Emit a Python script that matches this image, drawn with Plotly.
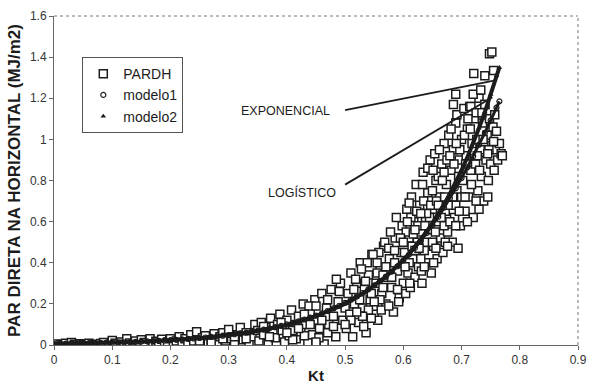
import plotly.graph_objects as go

# ---------------- data ----------------
pardh_kt = [
    0.005, 0.012, 0.02, 0.03, 0.035, 0.045, 0.05, 0.06, 0.07, 0.08,
    0.085, 0.095, 0.10, 0.105, 0.115, 0.12, 0.125, 0.13, 0.14, 0.145,
    0.15, 0.155, 0.165, 0.17, 0.175, 0.18, 0.185, 0.19, 0.195, 0.2,
    0.205, 0.21, 0.215, 0.22, 0.225, 0.23, 0.235, 0.24, 0.245, 0.25,
    0.255, 0.26, 0.265, 0.27, 0.275, 0.28, 0.285, 0.29, 0.295, 0.30,
    0.305, 0.31, 0.315, 0.32, 0.325, 0.33, 0.335, 0.34, 0.345, 0.35,
    0.352, 0.356, 0.36, 0.364, 0.368, 0.372, 0.376, 0.38, 0.384, 0.388,
    0.392, 0.396, 0.40, 0.404, 0.408, 0.412, 0.416, 0.42, 0.424, 0.428,
    0.432, 0.436, 0.44, 0.444, 0.448, 0.452, 0.456, 0.46, 0.464, 0.468,
    0.472, 0.476, 0.48, 0.484, 0.488, 0.492, 0.496, 0.50, 0.438, 0.41,
    0.455, 0.47, 0.485, 0.45, 0.43,
    0.502, 0.505, 0.508, 0.51, 0.513, 0.516, 0.52, 0.523, 0.526, 0.53,
    0.533, 0.536, 0.54, 0.543, 0.546, 0.55, 0.553, 0.556, 0.56, 0.563,
    0.566, 0.57, 0.573, 0.576, 0.58, 0.583, 0.586, 0.59, 0.593, 0.596,
    0.60, 0.598, 0.588, 0.578, 0.568, 0.558, 0.548, 0.538, 0.528, 0.518,
    0.532, 0.545, 0.562, 0.575, 0.592, 0.585, 0.555, 0.565,
    0.602, 0.604, 0.606, 0.608, 0.61, 0.612, 0.614, 0.616, 0.618, 0.62,
    0.622, 0.624, 0.626, 0.628, 0.63, 0.632, 0.634, 0.636, 0.638, 0.64,
    0.642, 0.644, 0.646, 0.648, 0.65, 0.652, 0.654, 0.656, 0.658, 0.66,
    0.662, 0.664, 0.666, 0.668, 0.67, 0.672, 0.674, 0.676, 0.678, 0.68,
    0.682, 0.684, 0.686, 0.688, 0.69, 0.692, 0.694, 0.696, 0.698, 0.70,
    0.605, 0.615, 0.625, 0.635, 0.645, 0.655, 0.665, 0.675, 0.685, 0.695,
    0.61, 0.62, 0.63, 0.64, 0.65, 0.66, 0.67, 0.68, 0.69, 0.70,
    0.642, 0.652, 0.662, 0.672, 0.682, 0.692, 0.603, 0.613, 0.623, 0.633,
    0.702, 0.704, 0.706, 0.708, 0.71, 0.712, 0.714, 0.716, 0.718, 0.72,
    0.722, 0.724, 0.726, 0.728, 0.73, 0.732, 0.734, 0.736, 0.738, 0.74,
    0.742, 0.744, 0.746, 0.748, 0.75, 0.752, 0.754, 0.756, 0.758, 0.76,
    0.762, 0.765, 0.768, 0.77, 0.721, 0.74, 0.755, 0.748, 0.752, 0.69,
    0.686, 0.72, 0.733, 0.716, 0.74, 0.71, 0.73, 0.745, 0.725, 0.705,
    0.36, 0.37, 0.39, 0.41, 0.43, 0.45, 0.47, 0.49, 0.515, 0.525,
    0.535, 0.545, 0.555, 0.565, 0.575, 0.585, 0.595, 0.607, 0.617, 0.627,
    0.637, 0.647, 0.657, 0.667, 0.677, 0.687, 0.697, 0.707, 0.717, 0.727,
    0.737, 0.747, 0.757, 0.611, 0.631, 0.651, 0.671, 0.691, 0.711, 0.731,
    0.58, 0.59, 0.57, 0.56, 0.55, 0.54, 0.53, 0.52, 0.51, 0.50,
    0.66, 0.67, 0.68, 0.69, 0.65, 0.64, 0.63, 0.62, 0.61, 0.60,
    0.715, 0.735, 0.755, 0.725, 0.745, 0.706, 0.696, 0.676, 0.656, 0.636,
    0.40, 0.42, 0.44, 0.46, 0.48, 0.33, 0.31, 0.29, 0.27, 0.25,
]
pardh_par = [
    0.005, 0.002, 0.008, 0.012, 0.004, 0.006, 0.002, 0.009, 0.004, 0.007,
    0.012, 0.003, 0.022, 0.008, 0.015, 0.004, 0.03, 0.01, 0.02, 0.006,
    0.025, 0.012, 0.03, 0.005, 0.018, 0.01, 0.028, 0.004, 0.015, 0.03,
    0.008, 0.02, 0.04, 0.012, 0.03, 0.005, 0.05, 0.02, 0.065, 0.01,
    0.035, 0.045, 0.015, 0.025, 0.055, 0.008, 0.04, 0.06, 0.02, 0.075,
    0.03, 0.012, 0.05, 0.085, 0.025, 0.06, 0.008, 0.04, 0.10, 0.07,
    0.02, 0.11, 0.05, 0.085, 0.01, 0.13, 0.06, 0.035, 0.10, 0.15,
    0.07, 0.015, 0.12, 0.045, 0.17, 0.09, 0.03, 0.14, 0.065, 0.20,
    0.10, 0.012, 0.16, 0.05, 0.22, 0.12, 0.08, 0.25, 0.005, 0.18,
    0.10, 0.27, 0.14, 0.04, 0.21, 0.30, 0.12, 0.18, 0.19, 0.025,
    0.035, 0.06, 0.32, 0.015, 0.045,
    0.08, 0.25, 0.15, 0.35, 0.04, 0.20, 0.30, 0.11, 0.40, 0.18,
    0.27, 0.06, 0.34, 0.22, 0.44, 0.15, 0.30, 0.12, 0.38, 0.25,
    0.48, 0.20, 0.33, 0.42, 0.28, 0.16, 0.52, 0.36, 0.23, 0.45,
    0.30, 0.58, 0.62, 0.55, 0.50, 0.45, 0.44, 0.40, 0.37, 0.32,
    0.09, 0.13, 0.17, 0.19, 0.21, 0.40, 0.35, 0.28,
    0.45, 0.25, 0.66, 0.35, 0.52, 0.28, 0.72, 0.42, 0.60, 0.33,
    0.78, 0.50, 0.38, 0.68, 0.55, 0.30, 0.84, 0.46, 0.62, 0.40,
    0.74, 0.56, 0.90, 0.35, 0.66, 0.48, 0.93, 0.80, 0.42, 0.60,
    0.72, 0.52, 0.88, 0.45, 0.98, 0.65, 0.78, 0.55, 1.02, 0.70,
    0.85, 0.50, 0.95, 0.62, 1.08, 0.75, 0.47, 0.90, 0.58, 1.00,
    0.55, 0.48, 0.58, 0.70, 0.62, 0.55, 0.62, 0.90, 0.72, 0.82,
    0.40, 0.46, 0.42, 0.50, 0.75, 0.82, 0.58, 0.60, 0.68, 0.72,
    0.86, 0.40, 0.95, 0.50, 1.05, 1.12, 0.38, 0.62, 0.65, 0.78,
    0.80, 1.15, 0.65, 0.92, 1.05, 0.72, 1.16, 0.85, 0.98, 0.62,
    1.10, 0.88, 1.00, 0.75, 1.20, 0.95, 0.82, 1.08, 0.70, 1.17,
    0.90, 1.02, 0.80, 1.10, 0.88, 0.97, 1.06, 0.85, 0.95, 1.04,
    0.90, 0.98, 0.93, 0.92, 1.32, 1.31, 1.335, 1.417, 1.425, 1.22,
    1.17, 1.22, 1.24, 1.16, 1.17, 0.60, 0.66, 0.72, 1.13, 1.02,
    0.09, 0.04, 0.11, 0.07, 0.15, 0.19, 0.22, 0.26, 0.27, 0.22,
    0.31, 0.25, 0.40, 0.34, 0.47, 0.46, 0.52, 0.60, 0.54, 0.47,
    0.58, 0.68, 0.70, 0.80, 0.68, 0.88, 0.95, 0.88, 0.78, 0.92,
    1.00, 0.95, 1.12, 0.30, 0.36, 0.85, 0.72, 0.98, 1.10, 0.85,
    0.33, 0.27, 0.38, 0.22, 0.21, 0.17, 0.14, 0.16, 0.12, 0.10,
    0.68, 0.84, 0.92, 0.58, 0.50, 0.64, 0.64, 0.56, 0.69, 0.50,
    1.05, 1.13, 0.99, 0.70, 0.93, 0.72, 0.65, 0.48, 0.47, 0.38,
    0.06, 0.08, 0.10, 0.12, 0.09, 0.03, 0.04, 0.03, 0.01, 0.02,
]

model_kt = [
    0.00, 0.01, 0.02, 0.03, 0.04, 0.05, 0.06, 0.07, 0.08, 0.09,
    0.10, 0.11, 0.12, 0.13, 0.14, 0.15, 0.16, 0.17, 0.18, 0.19,
    0.20, 0.21, 0.22, 0.23, 0.24, 0.25, 0.26, 0.27, 0.28, 0.29,
    0.30, 0.31, 0.32, 0.33, 0.34, 0.35, 0.36, 0.37, 0.38, 0.39,
    0.40, 0.41, 0.42, 0.43, 0.44, 0.45, 0.46, 0.47, 0.48, 0.49,
    0.50, 0.51, 0.52, 0.53, 0.54, 0.55, 0.56, 0.57, 0.58, 0.59,
    0.60, 0.61, 0.62, 0.63, 0.64, 0.65, 0.66, 0.67, 0.68, 0.69,
    0.70, 0.71, 0.72, 0.73, 0.74, 0.75, 0.76, 0.765,
]
modelo1 = [
    0.0057, 0.0061, 0.0066, 0.0070, 0.0075, 0.0081, 0.0087, 0.0093, 0.0100, 0.0107,
    0.0115, 0.0124, 0.0134, 0.0144, 0.0154, 0.0165, 0.0178, 0.0191, 0.0205, 0.0220,
    0.0237, 0.0254, 0.0273, 0.0294, 0.0316, 0.0340, 0.0365, 0.0393, 0.0421, 0.0453,
    0.0487, 0.0523, 0.0562, 0.0604, 0.0649, 0.0698, 0.0750, 0.0806, 0.0866, 0.0930,
    0.0999, 0.1074, 0.1155, 0.1241, 0.1333, 0.1433, 0.1539, 0.1654, 0.1778, 0.1910,
    0.2053, 0.2200, 0.2360, 0.2530, 0.2710, 0.2900, 0.3110, 0.3330, 0.3570, 0.3830,
    0.4110, 0.4410, 0.4730, 0.5070, 0.5440, 0.5830, 0.6240, 0.6680, 0.7140, 0.7620,
    0.8120, 0.8640, 0.9180, 0.9740, 1.0320, 1.0920, 1.1540, 1.1850,
]
modelo2 = [
    0.0055, 0.0059, 0.0064, 0.0068, 0.0073, 0.0079, 0.0085, 0.0091, 0.0098, 0.0105,
    0.0113, 0.0122, 0.0131, 0.0141, 0.0151, 0.0162, 0.0174, 0.0187, 0.0201, 0.0216,
    0.0232, 0.0249, 0.0268, 0.0288, 0.0310, 0.0333, 0.0358, 0.0385, 0.0413, 0.0444,
    0.0477, 0.0513, 0.0551, 0.0592, 0.0636, 0.0684, 0.0735, 0.0790, 0.0849, 0.0912,
    0.0980, 0.1053, 0.1132, 0.1217, 0.1307, 0.1405, 0.1509, 0.1622, 0.1743, 0.1873,
    0.2013, 0.2163, 0.2325, 0.2498, 0.2685, 0.2885, 0.3100, 0.3332, 0.3581, 0.3848,
    0.4135, 0.4444, 0.4776, 0.5132, 0.5516, 0.5928, 0.6370, 0.6850, 0.7360, 0.7910,
    0.8500, 0.9130, 0.9810, 1.0550, 1.1330, 1.2180, 1.3090, 1.3500,
]

x_ticks = [0, 0.1, 0.2, 0.3, 0.4, 0.5, 0.6, 0.7, 0.8, 0.9]
y_ticks = [0, 0.2, 0.4, 0.6, 0.8, 1.0, 1.2, 1.4, 1.6]
x_tick_labels = ["0", "0.1", "0.2", "0.3", "0.4", "0.5", "0.6", "0.7", "0.8", "0.9"]
y_tick_labels = ["0", "0.2", "0.4", "0.6", "0.8", "1", "1.2", "1.4", "1.6"]

INK = "#1c1c1c"
FONT = "Liberation Sans, Arial, sans-serif"

fig = go.Figure()

fig.add_trace(go.Scatter(
    x=pardh_kt, y=pardh_par, mode="markers", name="PARDH",
    marker=dict(symbol="square", size=8, color="white",
                line=dict(color=INK, width=1.5)),
))
# thick bands formed by the dense model points
fig.add_trace(go.Scatter(x=model_kt, y=modelo2, mode="lines", showlegend=False,
                         line=dict(color=INK, width=4), hoverinfo="skip"))
fig.add_trace(go.Scatter(x=model_kt, y=modelo1, mode="lines", showlegend=False,
                         line=dict(color=INK, width=3), hoverinfo="skip"))
fig.add_trace(go.Scatter(
    x=model_kt, y=modelo1, mode="markers", name="modelo1",
    marker=dict(symbol="circle-open", size=5, color=INK, line=dict(width=1.2)),
))
fig.add_trace(go.Scatter(
    x=model_kt, y=modelo2, mode="markers", name="modelo2",
    marker=dict(symbol="triangle-up", size=5, color=INK),
))

# annotation leader lines
fig.add_shape(type="line", xref="x", yref="y", x0=0.50, y0=1.142, x1=0.758, y1=1.287,
              line=dict(color=INK, width=1.8))
fig.add_shape(type="line", xref="x", yref="y", x0=0.50, y0=0.78, x1=0.753, y1=1.205,
              line=dict(color=INK, width=1.8))
fig.add_annotation(x=0.397, y=1.137, xref="x", yref="y", text="EXPONENCIAL",
                   showarrow=False, font=dict(family=FONT, size=12.5, color=INK))
fig.add_annotation(x=0.426, y=0.742, xref="x", yref="y", text="LOGÍSTICO",
                   showarrow=False, font=dict(family=FONT, size=12.5, color=INK))

# dotted top / right frame
fig.add_shape(type="line", xref="paper", yref="paper", x0=0, y0=1, x1=1, y1=1,
              line=dict(color="#777", width=1, dash="dot"))
fig.add_shape(type="line", xref="paper", yref="paper", x0=1, y0=0, x1=1, y1=1,
              line=dict(color="#777", width=1, dash="dot"))

fig.update_layout(
    width=596, height=391,
    margin=dict(l=54, r=9, t=14, b=45),
    paper_bgcolor="white", plot_bgcolor="white",
    font=dict(family=FONT, color="#333"),
    showlegend=True,
    legend=dict(x=0.054, y=0.875, xanchor="left", yanchor="top",
                bgcolor="white", bordercolor="#555", borderwidth=1,
                font=dict(family=FONT, size=14, color=INK),
                itemsizing="trace", tracegroupgap=0),
    xaxis=dict(range=[0, 0.9], tickvals=x_ticks, ticktext=x_tick_labels,
               showgrid=False, zeroline=False, showline=True, linecolor="#666",
               linewidth=1, ticks="outside", ticklen=4, tickcolor="#666",
               tickfont=dict(family=FONT, size=12, color="#333"),
               title=dict(text="<b>Kt</b>", font=dict(family=FONT, size=15, color=INK),
                          standoff=4)),
    yaxis=dict(range=[0, 1.6], tickvals=y_ticks, ticktext=y_tick_labels,
               showgrid=False, zeroline=False, showline=True, linecolor="#666",
               linewidth=1, ticks="outside", ticklen=4, tickcolor="#666",
               tickfont=dict(family=FONT, size=12, color="#333"),
               title=dict(text="<b>PAR DIRETA NA HORIZONTAL (MJ/m2)</b>",
                          font=dict(family=FONT, size=17, color=INK), standoff=4)),
)

fig.write_html("out.html")
